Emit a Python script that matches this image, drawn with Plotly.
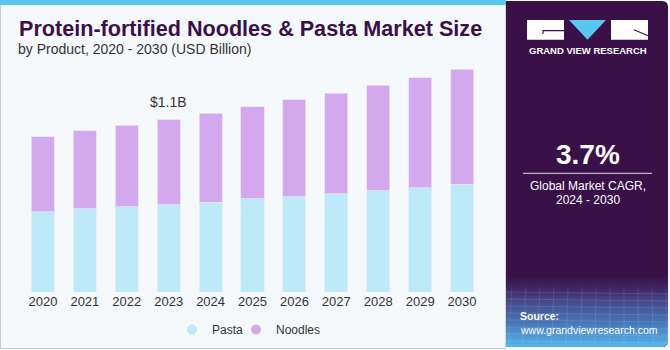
import math
import plotly.graph_objects as go

# ---- data ----
years = ["2020", "2021", "2022", "2023", "2024", "2025", "2026", "2027", "2028", "2029", "2030"]
pasta = [0.513, 0.530, 0.543, 0.557, 0.573, 0.594, 0.608, 0.626, 0.645, 0.666, 0.688]
noodles = [0.478, 0.498, 0.521, 0.543, 0.568, 0.589, 0.618, 0.642, 0.675, 0.702, 0.734]
series_names = ["Pasta", "Noodles"]
highlight_year = "2023"
highlight_label = "$1.1B"
title_text = "Protein-fortified Noodles & Pasta Market Size"
subtitle_text = "by Product, 2020 - 2030 (USD Billion)"
cagr_text = "3.7%"
cagr_label1 = "Global Market CAGR,"
cagr_label2 = "2024 - 2030"

# ---- style ----
W, H = 670, 350
PASTA_C = "#BDE9F9"
NOODLE_C = "#D4A8EC"
PURPLE = "#3A1048"
BG = "#F5F9FC"
FONT = "Liberation Sans, Arial, sans-serif"


def fx(px):
    return px / W


def fy(py):
    return 1 - py / H


fig = go.Figure()
fig.add_trace(go.Bar(x=years, y=pasta, name=series_names[0], marker=dict(color=PASTA_C, line=dict(color="#E6EEF8", width=0.8)), showlegend=False))
fig.add_trace(go.Bar(x=years, y=noodles, name=series_names[1], marker=dict(color=NOODLE_C, line=dict(color="#E6E0F5", width=0.8)), showlegend=False))
# legend entries with circle symbols (no visible points), one legend each for exact placement
fig.add_trace(go.Scatter(x=[years[0]], y=[None], mode="markers", name=series_names[0], legend="legend",
                         marker=dict(symbol="circle", size=10, color=PASTA_C)))
fig.add_trace(go.Scatter(x=[years[0]], y=[None], mode="markers", name=series_names[1], legend="legend2",
                         marker=dict(symbol="circle", size=10, color=NOODLE_C)))

shapes = []
# top cyan stripe
shapes.append(dict(type="rect", xref="paper", yref="paper", x0=fx(0), x1=fx(506), y0=fy(5), y1=fy(0), fillcolor="#5BC6EF", line_width=0, layer="below"))
# outer border lines
shapes.append(dict(type="line", xref="paper", yref="paper", x0=fx(0.5), x1=fx(0.5), y0=fy(5), y1=fy(348.5), line=dict(color="#C9CDD1", width=1)))
shapes.append(dict(type="line", xref="paper", yref="paper", x0=fx(0), x1=fx(506), y0=fy(348.5), y1=fy(348.5), line=dict(color="#C9CDD1", width=1)))
shapes.append(dict(type="line", xref="paper", yref="paper", x0=fx(505.5), x1=fx(505.5), y0=fy(5), y1=fy(348.5), line=dict(color="#D3D7DB", width=1)))

# right panel with rounded right corners
r = 6
pts = [("M", 506, 1), ("L", 668 - r, 1), ("Q", 668, 1, 668, 1 + r), ("L", 668, 347 - r), ("Q", 668, 347, 668 - r, 347), ("L", 506, 347)]
path = ""
for p in pts:
    if p[0] == "Q":
        path += f"Q{fx(p[1])},{fy(p[2])} {fx(p[3])},{fy(p[4])} "
    else:
        path += f"{p[0]}{fx(p[1])},{fy(p[2])} "
path += "Z"
shapes.append(dict(type="path", xref="paper", yref="paper", path=path, fillcolor=PURPLE, line_width=0))

# gradient at panel bottom
stops = [(276, (58, 16, 72)), (288, (62, 36, 100)), (302, (70, 74, 140)), (322, (70, 115, 182)), (347, (85, 182, 234))]


def col_at(y):
    for (y0, c0), (y1, c1) in zip(stops[:-1], stops[1:]):
        if y0 <= y <= y1:
            t = (y - y0) / (y1 - y0)
            return "rgb(%d,%d,%d)" % tuple(round(a + (b - a) * t) for a, b in zip(c0, c1))
    return "rgb(%d,%d,%d)" % stops[-1][1]


for y in range(276, 347):
    yc = y + 0.5
    inset = 0
    if yc > 347 - r:
        d = yc - (347 - r)
        inset = r - math.sqrt(max(r * r - d * d, 0))
    shapes.append(dict(type="rect", xref="paper", yref="paper", x0=fx(506), x1=fx(668 - inset), y0=fy(y + 1), y1=fy(y), fillcolor=col_at(yc), line_width=0))

# faint grid texture
for i in range(8):
    yy = 292 + i * 7
    shapes.append(dict(type="line", xref="paper", yref="paper", x0=fx(506), x1=fx(668), y0=fy(yy), y1=fy(yy + 2), line=dict(color="rgba(255,255,255,0.12)", width=1)))
for i in range(12):
    xx = 512 + i * 14
    shapes.append(dict(type="line", xref="paper", yref="paper", x0=fx(xx), x1=fx(xx - 4 + i * 0.5), y0=fy(287), y1=fy(346), line=dict(color="rgba(255,255,255,0.10)", width=1)))

# logo
shapes.append(dict(type="rect", xref="paper", yref="paper", x0=fx(527), x1=fx(564), y0=fy(39.7), y1=fy(20), fillcolor="white", line_width=0))
shapes.append(dict(type="path", xref="paper", yref="paper", path=f"M{fx(564)},{fy(30.7)} L{fx(543)},{fy(30.7)} L{fx(543)},{fy(34)}", line=dict(color=PURPLE, width=1.2)))
shapes.append(dict(type="path", xref="paper", yref="paper", path=f"M{fx(569)},{fy(20)} L{fx(606)},{fy(20)} L{fx(587.5)},{fy(39.7)} Z", fillcolor="#5BC6EF", line_width=0))
shapes.append(dict(type="rect", xref="paper", yref="paper", x0=fx(611), x1=fx(648), y0=fy(39.7), y1=fy(20), fillcolor="white", line_width=0))
shapes.append(dict(type="path", xref="paper", yref="paper", path=f"M{fx(634)},{fy(29.7)} L{fx(648)},{fy(35.7)}", line=dict(color=PURPLE, width=1.2)))
# separator line in panel
shapes.append(dict(type="line", xref="paper", yref="paper", x0=fx(523), x1=fx(652), y0=fy(173.3), y1=fy(173.3), line=dict(color="rgba(255,255,255,0.85)", width=1)))

annotations = [
    dict(text=f"<b>{title_text}</b>", x=fx(16.5), y=fy(28.2), xanchor="left", yanchor="middle", font=dict(family=FONT, size=21.6, color=PURPLE)),
    dict(text=subtitle_text, x=fx(16), y=fy(49.3), xanchor="left", yanchor="middle", font=dict(family=FONT, size=14, color="#333333")),
    dict(text="<b>GRAND VIEW RESEARCH</b>", x=fx(587.5), y=fy(51), xanchor="center", yanchor="middle", font=dict(family=FONT, size=9.5, color="white")),
    dict(text=f"<b>{cagr_text}</b>", x=fx(587.5), y=fy(154.2), xanchor="center", yanchor="middle", font=dict(family=FONT, size=28, color="white")),
    dict(text=cagr_label1, x=fx(587.5), y=fy(185.8), xanchor="center", yanchor="middle", font=dict(family=FONT, size=12, color="white")),
    dict(text=cagr_label2, x=fx(587.5), y=fy(199.8), xanchor="center", yanchor="middle", font=dict(family=FONT, size=12, color="white")),
    dict(text="<b>Source:</b>", x=fx(517.5), y=fy(315.8), xanchor="left", yanchor="middle", font=dict(family=FONT, size=10.5, color="white")),
    dict(text="www.grandviewresearch.com", x=fx(517.5), y=fy(329.5), xanchor="left", yanchor="middle", font=dict(family=FONT, size=10.5, color="white")),
]
hi = years.index(highlight_year)
annotations.append(dict(text=highlight_label, x=hi, y=pasta[hi] + noodles[hi], xref="x", yref="y", xanchor="center", yanchor="bottom", yshift=8, showarrow=False, font=dict(family=FONT, size=14, color="#333333")))
for a in annotations:
    a.setdefault("xref", "paper")
    a.setdefault("yref", "paper")
    a.setdefault("showarrow", False)

legend_common = dict(orientation="h", traceorder="normal", xanchor="left", yanchor="top", y=fy(315),
                     font=dict(family=FONT, size=12, color="#333333"), bgcolor="rgba(0,0,0,0)", itemclick=False)

fig.update_layout(
    template="none",
    width=W, height=H,
    margin=dict(l=0, r=0, t=0, b=0),
    paper_bgcolor=BG, plot_bgcolor=BG,
    barmode="stack", bargap=0.45,
    xaxis=dict(domain=[fx(22), fx(483)], type="category", categoryorder="array", categoryarray=years, range=[-0.5, len(years) - 0.5],
               showgrid=False, zeroline=False, showline=False, ticks="",
               tickfont=dict(family=FONT, size=13, color="#333333"), automargin=False, fixedrange=True),
    yaxis=dict(domain=[fy(292), fy(60)], range=[0, 1.481], visible=False, showgrid=False, zeroline=False, automargin=False, fixedrange=True),
    legend=dict(x=fx(172), **legend_common),
    legend2=dict(x=fx(236), **legend_common),
    shapes=shapes,
    annotations=annotations,
    showlegend=True,
)

fig.write_html("out.html")
